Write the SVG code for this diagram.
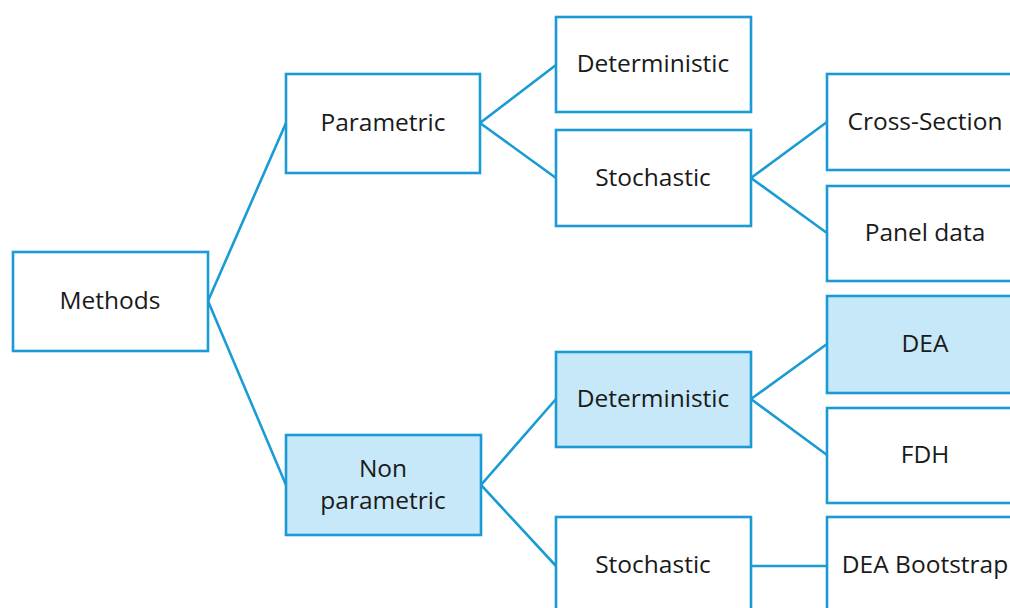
<svg xmlns="http://www.w3.org/2000/svg" width="1010" height="608" viewBox="0 0 1010 608">
<style>
.box{fill:#ffffff;stroke:#1b9bd5;stroke-width:2.6}
.hl{fill:#c6e8f8}
.lbl{font-family:"Open Sans","Noto Sans",sans-serif;font-size:24.5px;fill:#1a1a1a;text-anchor:middle}
.conn{stroke:#1b9bd5;stroke-width:2.6;fill:none}
</style>
<rect width="1010" height="608" fill="#ffffff"/>
<g id="connectors">
<polyline class="conn" points="286,123 208,301 286,485"/>
<polyline class="conn" points="556,65 480,123 556,178"/>
<polyline class="conn" points="556,399 481,485 556,566"/>
<polyline class="conn" points="827,122 751,178 827,233"/>
<polyline class="conn" points="827,344 751,399 827,455"/>
<line class="conn" x1="751" y1="566" x2="827" y2="566"/>
</g>
<g id="methods"><rect class="box" x="13" y="252" width="195" height="99"/><text class="lbl" x="110" y="309">Methods</text></g>
<g id="parametric"><rect class="box" x="286" y="74" width="194" height="99"/><text class="lbl" x="383" y="131">Parametric</text></g>
<g id="nonparametric"><rect class="box hl" x="286" y="435" width="195" height="100"/><text class="lbl" x="383" y="477">Non</text><text class="lbl" x="383" y="509">parametric</text></g>
<g id="det1"><rect class="box" x="556" y="17" width="195" height="95"/><text class="lbl" x="653" y="72">Deterministic</text></g>
<g id="sto1"><rect class="box" x="556" y="130" width="195" height="96"/><text class="lbl" x="653" y="186">Stochastic</text></g>
<g id="det2"><rect class="box hl" x="556" y="352" width="195" height="95"/><text class="lbl" x="653" y="407">Deterministic</text></g>
<g id="sto2"><rect class="box" x="556" y="517" width="195" height="110"/><text class="lbl" x="653" y="573">Stochastic</text></g>
<g id="cross"><rect class="box" x="827" y="74" width="200" height="96"/><text class="lbl" x="925" y="130">Cross-Section</text></g>
<g id="panel"><rect class="box" x="827" y="186" width="200" height="95"/><text class="lbl" x="925" y="241">Panel data</text></g>
<g id="dea"><rect class="box hl" x="827" y="296" width="200" height="97"/><text class="lbl" x="925" y="352">DEA</text></g>
<g id="fdh"><rect class="box" x="827" y="408" width="200" height="95"/><text class="lbl" x="925" y="463">FDH</text></g>
<g id="deab"><rect class="box" x="827" y="517" width="200" height="110"/><text class="lbl" x="925" y="573">DEA Bootstrap</text></g>
</svg>
